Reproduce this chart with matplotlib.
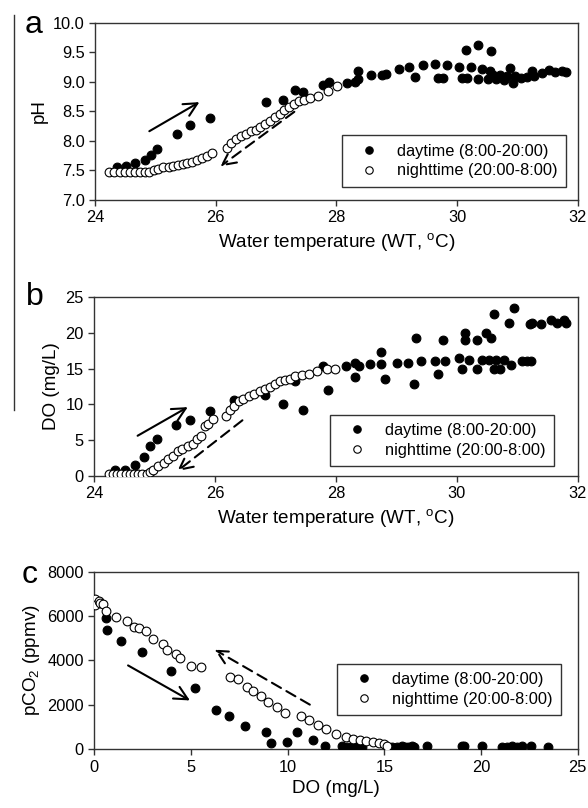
import matplotlib

matplotlib.use("Agg")
import matplotlib.pyplot as plt
from matplotlib.lines import Line2D
from matplotlib.ticker import FormatStrFormatter

plt.rcParams["font.family"] = ["Liberation Sans", "DejaVu Sans"]
plt.rcParams["mathtext.fontset"] = "custom"
plt.rcParams["mathtext.rm"] = "Liberation Sans"
plt.rcParams["mathtext.it"] = "Liberation Sans:italic"

# --- panel a: pH vs water temperature ---
day_a_T = [24.36, 24.51, 24.67, 24.82, 24.92, 25.02, 25.36, 25.58, 25.91, 26.83,
           27.12, 27.31, 27.45, 27.78, 27.87, 28.17, 28.31, 28.35, 28.36, 28.57,
           28.75, 28.82, 29.03, 29.21, 29.30, 29.43, 29.64, 29.69, 29.77, 29.83,
           30.04, 30.08, 30.15, 30.16, 30.23, 30.34, 30.35, 30.41, 30.51, 30.55,
           30.56, 30.60, 30.65, 30.71, 30.77, 30.82, 30.88, 30.92, 30.96, 31.06,
           31.16, 31.24, 31.27, 31.41, 31.53, 31.62, 31.74, 31.81]
day_a_pH = [7.55, 7.57, 7.62, 7.68, 7.76, 7.86, 8.12, 8.27, 8.38, 8.65,
            8.70, 8.86, 8.82, 8.95, 9.00, 8.98, 9.00, 9.18, 9.04, 9.12,
            9.12, 9.14, 9.21, 9.25, 9.08, 9.28, 9.30, 9.07, 9.07, 9.28,
            9.25, 9.06, 9.53, 9.06, 9.25, 9.62, 9.05, 9.21, 9.05, 9.18,
            9.52, 9.12, 9.05, 9.12, 9.03, 9.10, 9.24, 8.98, 9.09, 9.07,
            9.08, 9.18, 9.09, 9.15, 9.20, 9.17, 9.18, 9.16]
night_a_T = [24.23, 24.32, 24.41, 24.50, 24.58, 24.66, 24.75, 24.83, 24.90, 24.97,
             25.05, 25.13, 25.22, 25.30, 25.38, 25.45, 25.52, 25.60, 25.69, 25.77,
             25.86, 25.94,
             26.18, 26.26, 26.34, 26.42, 26.50, 26.58, 26.66, 26.74, 26.82, 26.90,
             26.98, 27.06, 27.14, 27.22, 27.30, 27.38, 27.46, 27.57, 27.70, 27.86,
             28.01]
night_a_pH = [7.48, 7.48, 7.48, 7.48, 7.48, 7.48, 7.48, 7.47, 7.48, 7.50,
              7.52, 7.55, 7.56, 7.57, 7.59, 7.61, 7.63, 7.65, 7.68, 7.71,
              7.75, 7.79,
              7.88, 7.97, 8.03, 8.08, 8.12, 8.16, 8.19, 8.23, 8.28, 8.33,
              8.40, 8.46, 8.52, 8.57, 8.62, 8.67, 8.70, 8.73, 8.76, 8.85,
              8.93]

# --- panel b: DO vs water temperature ---
day_b_T = [24.35, 24.51, 24.68, 24.83, 24.93, 25.04, 25.36, 25.58, 25.92, 26.31,
           26.83, 27.12, 27.45, 27.33, 27.79, 27.87, 28.16, 28.32, 28.38, 28.32,
           28.57, 28.74, 28.75, 28.81, 29.01, 29.20, 29.33, 29.29, 29.41, 29.64,
           29.69, 29.77, 29.81, 30.03, 30.09, 30.14, 30.14, 30.21, 30.33, 30.33,
           30.42, 30.49, 30.53, 30.57, 30.61, 30.61, 30.65, 30.72, 30.78, 30.87,
           30.89, 30.95, 31.08, 31.16, 31.22, 31.21, 31.25, 31.40, 31.55, 31.66,
           31.77, 31.80]
day_b_DO = [0.8, 0.8, 1.5, 2.6, 4.1, 5.2, 7.1, 7.8, 9.0, 10.6,
            11.3, 10.0, 9.2, 13.2, 15.3, 12.0, 15.3, 15.8, 15.4, 13.8,
            15.7, 17.3, 15.7, 13.5, 15.8, 15.8, 19.3, 12.9, 16.0, 16.0,
            14.3, 19.0, 16.1, 16.5, 14.9, 20.0, 19.0, 16.2, 19.0, 14.9,
            16.2, 20.0, 16.2, 19.3, 14.9, 22.6, 16.2, 15.0, 16.2, 21.4,
            15.5, 23.5, 16.0, 16.0, 16.0, 21.2, 21.4, 21.2, 21.8, 21.4,
            21.8, 21.4]
night_b_T = [24.24, 24.31, 24.38, 24.45, 24.52, 24.59, 24.66, 24.73, 24.80, 24.87,
             24.93, 24.98, 25.06, 25.15, 25.23, 25.31, 25.39, 25.46, 25.55, 25.63,
             25.70, 25.77, 25.83, 25.89, 25.96,
             26.18, 26.25, 26.32, 26.39, 26.47, 26.57, 26.65, 26.75, 26.83, 26.91,
             27.00, 27.08, 27.16, 27.24, 27.33, 27.44, 27.55, 27.69, 27.85, 27.99]
night_b_DO = [0.3, 0.2, 0.2, 0.2, 0.2, 0.2, 0.2, 0.2, 0.25, 0.3,
              0.5, 0.8, 1.4, 1.8, 2.3, 2.8, 3.4, 3.8, 4.2, 4.5,
              5.1, 5.6, 6.9, 7.3, 7.9,
              8.4, 9.2, 9.8, 10.4, 10.8, 11.2, 11.5, 11.9, 12.1, 12.4,
              12.8, 13.2, 13.4, 13.6, 13.9, 14.1, 14.3, 14.7, 14.9, 15.0]

# --- panel c: pCO2 vs DO ---
day_c_DO = [0.60, 0.64, 1.38, 2.48, 3.97, 5.20, 6.28, 6.98, 7.79, 8.86,
            9.14, 9.95, 10.50, 11.30, 11.93, 12.79, 13.05, 13.31, 13.57, 13.83,
            15.38, 15.64, 15.89, 16.07, 16.24, 16.41, 16.55, 17.19, 19.00, 19.12,
            19.05, 20.03, 21.07, 21.32, 21.58, 21.84, 22.10, 22.57, 23.48]
day_c_pCO2 = [5900, 5370, 4890, 4370, 3530, 2780, 1770, 1500, 1050, 800,
              270, 340, 800, 420, 150, 130, 110, 120, 140, 120,
              120, 110, 140, 120, 110, 130, 120, 130, 150, 130,
              90, 130, 120, 120, 130, 120, 130, 130, 120]
night_c_DO = [0.05, 0.05, 0.25, 0.30, 0.45, 0.62, 1.10, 1.67, 2.05, 2.31,
              2.66, 3.05, 3.57, 3.78, 4.21, 4.43, 4.98, 5.50,
              7.02, 7.43, 7.88, 8.22, 8.60, 8.98, 9.43, 9.84,
              10.67, 11.10, 11.55, 12.00, 12.50, 13.00, 13.40, 13.75, 14.05, 14.40,
              14.70, 15.00, 15.15]
night_c_pCO2 = [6750, 6500, 6700, 6600, 6550, 6250, 5950, 5790, 5520, 5450,
                5340, 4970, 4740, 4470, 4290, 4130, 3770, 3690,
                3270, 3180, 2820, 2640, 2400, 2140, 1920, 1620,
                1500, 1300, 1100, 900, 680, 550, 480, 410, 360, 320,
                290, 230, 160]

day_label = "daytime (8:00-20:00)"
night_label = "nighttime (20:00-8:00)"
wt_label = r"Water temperature (WT, $^{\rm o}$C)"

TICK_FS = 11.8
LABEL_FS = 13.6
LEGEND_FS = 11.8


def _style(ax):
    for s in ax.spines.values():
        s.set_color("#333333")
        s.set_linewidth(1.0)
    ax.tick_params(direction="out", length=4, width=1, color="#333333",
                   labelsize=TICK_FS, top=False, right=False)


def _points(ax, x_day, y_day, x_night, y_night):
    ax.plot(x_day, y_day, "o", ms=6.3, mfc="k", mec="k", mew=0.8,
            label=day_label, zorder=3)
    ax.plot(x_night, y_night, "o", ms=6.3, mfc="w", mec="k", mew=0.8,
            label=night_label, zorder=4)


def _legend(ax, anchor):
    leg = ax.legend(loc="lower right", bbox_to_anchor=anchor, borderaxespad=0,
                    fontsize=LEGEND_FS, frameon=True, fancybox=False,
                    borderpad=0.5, handlelength=2.3, handletextpad=0.55,
                    labelspacing=0.3, markerscale=0.85)
    leg.get_frame().set_edgecolor("k")
    leg.get_frame().set_linewidth(1.0)


def _arrow(ax, start, end, dashed=False):
    ax.annotate("", xy=end, xytext=start,
                arrowprops=dict(arrowstyle="->", lw=1.5, color="k",
                                mutation_scale=24,
                                linestyle=(0, (5, 3)) if dashed else "-"),
                zorder=2)


fig = plt.figure(figsize=(5.88, 8.08), dpi=100)
ax_a = fig.add_axes([0.1616, 0.7525, 0.821, 0.2194])
ax_b = fig.add_axes([0.1600, 0.4113, 0.8225, 0.2208])
ax_c = fig.add_axes([0.1604, 0.0726, 0.8221, 0.2199])

# panel a
_points(ax_a, day_a_T, day_a_pH, night_a_T, night_a_pH)
_arrow(ax_a, (24.86, 8.14), (25.77, 8.68))
_arrow(ax_a, (27.34, 8.52), (26.04, 7.54), dashed=True)
ax_a.set_xlim(24, 32)
ax_a.set_ylim(7.0, 10.0)
ax_a.set_xticks([24, 26, 28, 30, 32])
ax_a.set_yticks([7.0, 7.5, 8.0, 8.5, 9.0, 9.5, 10.0])
ax_a.yaxis.set_major_formatter(FormatStrFormatter("%.1f"))
ax_a.set_xlabel(wt_label, fontsize=LABEL_FS)
ax_a.set_ylabel("pH", fontsize=LABEL_FS)
_style(ax_a)
_legend(ax_a, (0.975, 0.075))

# panel b
_points(ax_b, day_b_T, day_b_DO, night_b_T, night_b_DO)
_arrow(ax_b, (24.68, 5.4), (25.59, 9.8))
_arrow(ax_b, (26.49, 8.0), (25.34, 0.4), dashed=True)
ax_b.set_xlim(24, 32)
ax_b.set_ylim(0, 25)
ax_b.set_xticks([24, 26, 28, 30, 32])
ax_b.set_yticks([0, 5, 10, 15, 20, 25])
ax_b.set_xlabel(wt_label, fontsize=LABEL_FS)
ax_b.set_ylabel("DO (mg/L)", fontsize=LABEL_FS)
_style(ax_b)
_legend(ax_b, (0.951, 0.054))

# panel c
_points(ax_c, day_c_DO, day_c_pCO2, night_c_DO, night_c_pCO2)
_arrow(ax_c, (1.62, 3840), (5.07, 2140))
_arrow(ax_c, (11.27, 1950), (6.1, 4550), dashed=True)
ax_c.set_xlim(0, 25)
ax_c.set_ylim(0, 8000)
ax_c.set_xticks([0, 5, 10, 15, 20, 25])
ax_c.set_yticks([0, 2000, 4000, 6000, 8000])
ax_c.set_xlabel("DO (mg/L)", fontsize=LABEL_FS)
ax_c.set_ylabel(r"pCO$_2$ (ppmv)", fontsize=LABEL_FS)
_style(ax_c)
_legend(ax_c, (0.965, 0.193))

# panel letters
fig.text(25 / 588, 1 - 33 / 808, "a", fontsize=23, ha="left", va="baseline")
fig.text(26 / 588, 1 - 305 / 808, "b", fontsize=23, ha="left", va="baseline")
fig.text(22 / 588, 1 - 583 / 808, "c", fontsize=23, ha="left", va="baseline")

# thin vertical rule at the left edge
fig.add_artist(Line2D([14 / 588, 14 / 588], [1 - 15 / 808, 1 - 410 / 808],
                      color="#333333", lw=1.0))

fig.savefig("out.png", dpi=100)
plt.close(fig)
